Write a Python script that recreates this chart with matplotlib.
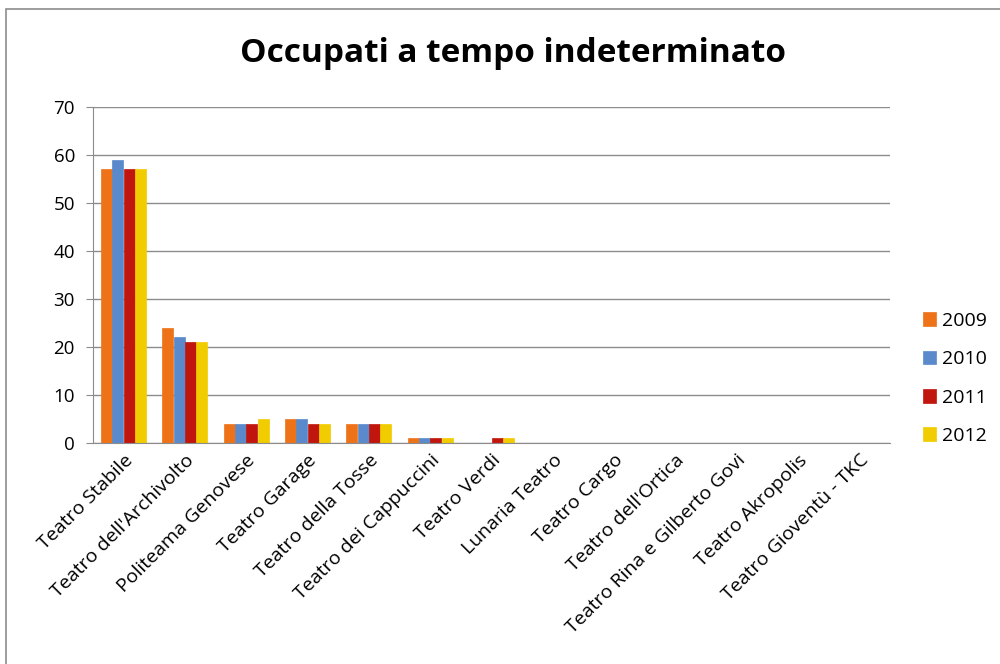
import matplotlib.pyplot as plt
import numpy as np
from matplotlib.patches import Rectangle

plt.rcParams['font.family'] = ['Open Sans', 'DejaVu Sans']

theatres = ["Teatro Stabile", "Teatro dell'Archivolto", "Politeama Genovese",
            "Teatro Garage", "Teatro della Tosse", "Teatro dei Cappuccini",
            "Teatro Verdi", "Lunaria Teatro", "Teatro Cargo", "Teatro dell'Ortica",
            "Teatro Rina e Gilberto Govi", "Teatro Akropolis", "Teatro Gioventù - TKC"]
years = ["2009", "2010", "2011", "2012"]
v2009 = [57, 24, 4, 5, 4, 1, 0, 0, 0, 0, 0, 0, 0]
v2010 = [59, 22, 4, 5, 4, 1, 0, 0, 0, 0, 0, 0, 0]
v2011 = [57, 21, 4, 4, 4, 1, 1, 0, 0, 0, 0, 0, 0]
v2012 = [57, 21, 5, 4, 4, 1, 1, 0, 0, 0, 0, 0, 0]
colors = ["#EE7318", "#5A8ACB", "#C0160E", "#F0CC00"]

fig = plt.figure(figsize=(10, 6.64), dpi=100)
ax = fig.add_axes([0.093, 0.333, 0.797, 0.506])

x = np.arange(len(theatres))
w = 0.185
for i, (vals, c) in enumerate(zip([v2009, v2010, v2011, v2012], colors)):
    ax.bar(x + (i - 1.5) * w, vals, w * 0.97, color=c, label=years[i],
           edgecolor=c, linewidth=0.5)

ax.set_xlim(-0.5, len(theatres) - 0.5)
ax.set_ylim(0, 70)
ax.set_yticks(range(0, 71, 10))
ax.yaxis.grid(True, color="#8c8c8c", linewidth=1)
ax.set_axisbelow(True)
for s in ["top", "right"]:
    ax.spines[s].set_visible(False)
ax.spines["left"].set_color("#8c8c8c")
ax.spines["bottom"].set_color("#8c8c8c")
ax.tick_params(axis="y", length=5, color="#8c8c8c", labelsize=13.5, pad=8)
ax.tick_params(axis="x", length=0, labelsize=14, pad=6)
ax.set_xticks(x)
ax.set_xticklabels(theatres, rotation=45, ha="right", rotation_mode="anchor")

fig.suptitle("Occupati a tempo indeterminato", x=0.513, y=0.945,
             fontsize=24, fontweight="bold")

fig.legend(loc="center left", bbox_to_anchor=(0.905, 0.43), frameon=False,
           fontsize=14, handlelength=0.7, handleheight=0.7, labelspacing=1.05,
           handletextpad=0.3)

fig.patches.append(Rectangle((0.006, -0.1), 1.2, 1.087, transform=fig.transFigure,
                             fill=False, edgecolor="#8c8c8c", linewidth=1.2))

fig.savefig("out.png", dpi=100)
